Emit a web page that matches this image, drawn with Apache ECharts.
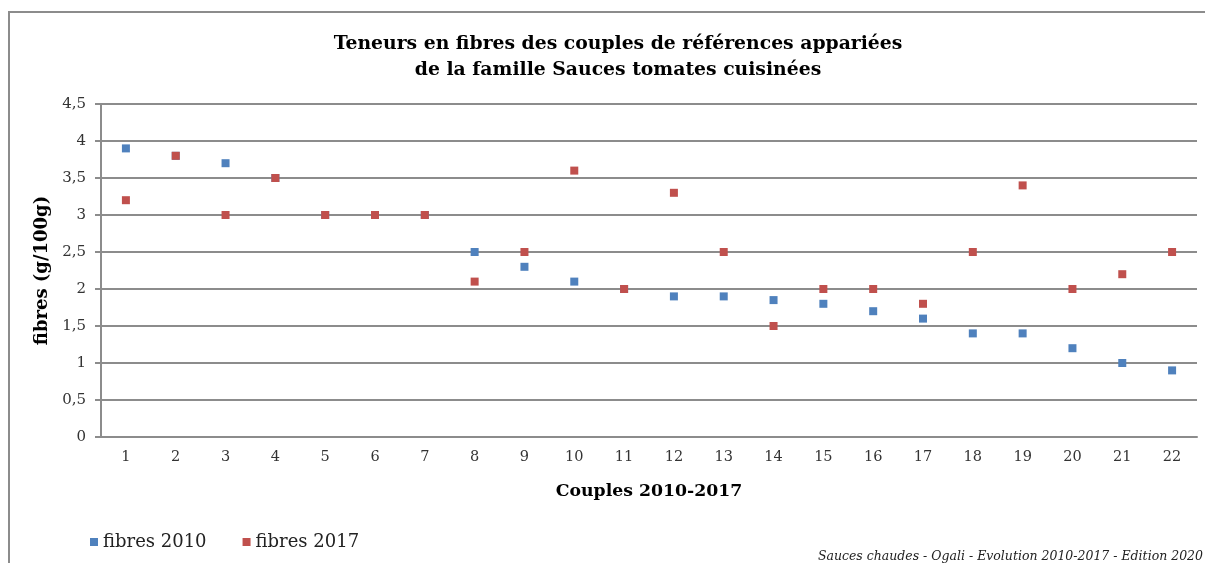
<!DOCTYPE html>
<html>
<head>
<meta charset="utf-8">
<script src="https://cdn.jsdelivr.net/npm/echarts@6/dist/echarts.min.js"></script>
<style>
  html, body { margin: 0; padding: 0; background: #fff; }
  #chart { width: 1205px; height: 563px; }
</style>
</head>
<body>
<div id="chart"></div>
<script>
// Couples of paired references (2010 vs 2017)
const categories = ['1','2','3','4','5','6','7','8','9','10','11','12','13','14','15','16','17','18','19','20','21','22'];
const fibres2010 = [3.9, 3.8, 3.7, 3.5, 3.0, 3.0, 3.0, 2.5, 2.3, 2.1, 2.0, 1.9, 1.9, 1.85, 1.8, 1.7, 1.6, 1.4, 1.4, 1.2, 1.0, 0.9];
const fibres2017 = [3.2, 3.8, 3.0, 3.5, 3.0, 3.0, 3.0, 2.1, 2.5, 3.6, 2.0, 3.3, 2.5, 1.5, 2.0, 2.0, 1.8, 2.5, 3.4, 2.0, 2.2, 2.5];
const seriesNames = ['fibres 2010', 'fibres 2017'];

const serif = '"DejaVu Serif", "Liberation Serif", serif';
const chart = echarts.init(document.getElementById('chart'), null, { renderer: 'canvas' });

const fmt = v => String(v).replace('.', ',');

chart.setOption({
  backgroundColor: '#ffffff',
  animation: false,
  title: {
    text: 'Teneurs en fibres des couples de références appariées\nde la famille Sauces tomates cuisinées',
    left: 613,
    textAlign: 'center',
    top: 26,
    textStyle: { fontFamily: serif, fontWeight: 'bold', fontSize: 18.8, lineHeight: 26, color: '#000' }
  },
  graphic: [
    {
      type: 'rect',
      shape: { x: 9, y: 12, width: 1220, height: 620 },
      style: { fill: 'none', stroke: '#8c8c8c', lineWidth: 2 },
      silent: true
    },
    {
      type: 'text',
      right: 2,
      bottom: 0,
      style: {
        text: 'Sauces chaudes - Ogali - Evolution 2010-2017 - Edition 2020',
        font: 'italic 12.5px ' + serif,
        fill: '#222'
      }
    }
  ],
  legend: {
    left: 85,
    top: 528,
    itemWidth: 8,
    itemHeight: 8,
    itemGap: 36,
    icon: 'rect',
    textStyle: { fontFamily: serif, fontSize: 18, color: '#222' },
    data: seriesNames
  },
  grid: { left: 101, top: 104, width: 1096, height: 333, containLabel: false },
  xAxis: {
    type: 'category',
    data: categories,
    boundaryGap: true,
    name: 'Couples 2010-2017',
    nameLocation: 'middle',
    nameGap: 46,
    nameTextStyle: { fontFamily: serif, fontWeight: 'bold', fontSize: 17.3, color: '#000' },
    axisLine: { lineStyle: { color: '#8c8c8c', width: 2 } },
    axisTick: { show: false },
    axisLabel: { fontFamily: serif, fontSize: 14.5, color: '#333', margin: 13 },
    splitLine: { show: false }
  },
  yAxis: {
    type: 'value',
    min: 0,
    max: 4.5,
    interval: 0.5,
    name: 'fibres (g/100g)',
    nameLocation: 'middle',
    nameGap: 45,
    nameRotate: 90,
    nameTextStyle: { fontFamily: serif, fontWeight: 'bold', fontSize: 18, color: '#000' },
    axisLine: { show: true, lineStyle: { color: '#8c8c8c', width: 2 } },
    axisTick: { show: true, length: 6, lineStyle: { color: '#8c8c8c', width: 2 } },
    axisLabel: { fontFamily: serif, fontSize: 15, color: '#333', margin: 15, formatter: fmt },
    splitLine: { lineStyle: { color: '#8c8c8c', width: 2 } }
  },
  series: [
    {
      name: seriesNames[0],
      type: 'line',
      data: fibres2010,
      lineStyle: { width: 0, opacity: 0 },
      symbol: 'rect',
      symbolSize: 8,
      showAllSymbol: true,
      itemStyle: { color: '#4f81bd' },
      z: 3
    },
    {
      name: seriesNames[1],
      type: 'line',
      data: fibres2017,
      lineStyle: { width: 0, opacity: 0 },
      symbol: 'rect',
      symbolSize: 8,
      showAllSymbol: true,
      itemStyle: { color: '#c0504d' },
      z: 4
    }
  ]
});
</script>
</body>
</html>
